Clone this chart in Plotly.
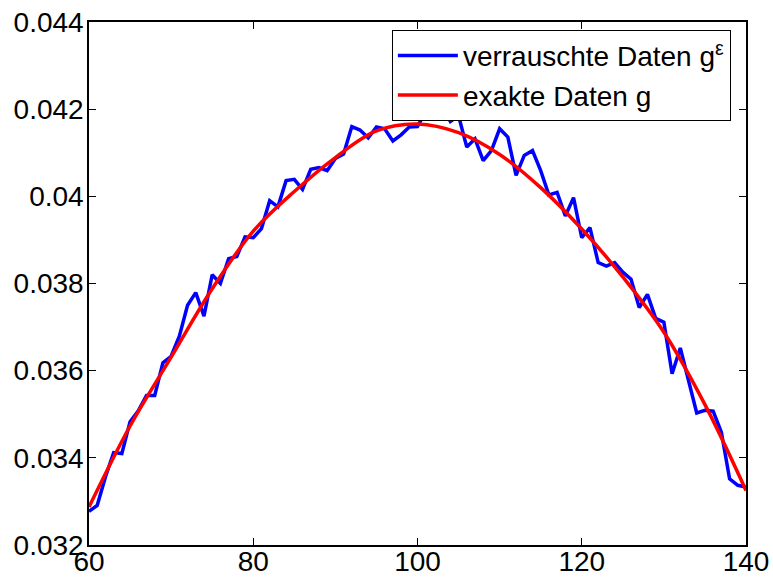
import plotly.graph_objects as go

x_noisy = list(range(60, 141))
y_noisy = [
    0.03277, 0.03291, 0.03356, 0.03412, 0.03410, 0.03483, 0.03508, 0.03543, 0.03543, 0.03618,
    0.03633, 0.03679, 0.03750, 0.03779, 0.03725, 0.03820, 0.03800, 0.03857, 0.03862, 0.03907,
    0.03905, 0.03926, 0.03990, 0.03976, 0.04036, 0.04039, 0.04016, 0.04062, 0.04066, 0.04059,
    0.04087, 0.04097, 0.04160, 0.04152, 0.04134, 0.04159, 0.04155, 0.04127, 0.04141, 0.04159,
    0.04160, 0.04195, 0.04185, 0.04205, 0.04172, 0.04185, 0.04113, 0.04132, 0.04082, 0.04105,
    0.04155, 0.04136, 0.04048, 0.04094, 0.04105, 0.04059, 0.04003, 0.04009, 0.03955, 0.03997,
    0.03905, 0.03928, 0.03848, 0.03840, 0.03848, 0.03826, 0.03810, 0.03745, 0.03775, 0.03720,
    0.03711, 0.03593, 0.03652, 0.03577, 0.03503, 0.03509, 0.03507, 0.03459, 0.03352, 0.03337,
    0.03333,
]

x_exact = [60, 65, 70, 75, 80, 85, 90, 95, 100, 105, 110, 115, 120, 125, 130, 135, 140]
y_exact = [0.03287, 0.03473, 0.03631, 0.03788, 0.03920, 0.04011, 0.04089, 0.04150, 0.04166,
           0.04146, 0.04096, 0.04020, 0.03925, 0.03815, 0.03688, 0.03522, 0.03325]

x_ticks = [60, 80, 100, 120, 140]
y_ticks = [0.032, 0.034, 0.036, 0.038, 0.04, 0.042, 0.044]
y_tick_text = ["0.032", "0.034", "0.036", "0.038", "0.04", "0.042", "0.044"]

font_family = "Liberation Sans, Arial, sans-serif"

fig = go.Figure()
fig.add_trace(go.Scatter(
    x=x_noisy, y=y_noisy, mode="lines",
    name="verrauschte Daten g<sup>ε</sup>",
    line=dict(color="#0000FF", width=3.5),
))
fig.add_trace(go.Scatter(
    x=x_exact, y=y_exact, mode="lines",
    name="exakte Daten g",
    line=dict(color="#FF0000", width=3.5, shape="spline", smoothing=1),
))

axis_common = dict(
    showgrid=False, zeroline=False, showline=True, linecolor="black", linewidth=1.5,
    mirror="ticks", ticks="inside", ticklen=7, tickcolor="black", tickwidth=1,
    tickfont=dict(family=font_family, size=28, color="black"),
    automargin=False,
)

fig.update_layout(
    width=773, height=579,
    margin=dict(l=89, r=27, t=22, b=34),
    paper_bgcolor="white", plot_bgcolor="white",
    xaxis=dict(range=[60, 140], tickvals=x_ticks, ticklabelstandoff=-9, **axis_common),
    yaxis=dict(range=[0.032, 0.044], tickvals=y_ticks, ticktext=y_tick_text,
               ticklabelstandoff=-2, **axis_common),
    legend=dict(
        x=0.461, y=0.985, xanchor="left", yanchor="top",
        bgcolor="white", bordercolor="black", borderwidth=1,
        font=dict(family=font_family, size=28, color="black"),
        itemwidth=60, tracegroupgap=0,
    ),
    showlegend=True,
)

fig.write_html("out.html")
